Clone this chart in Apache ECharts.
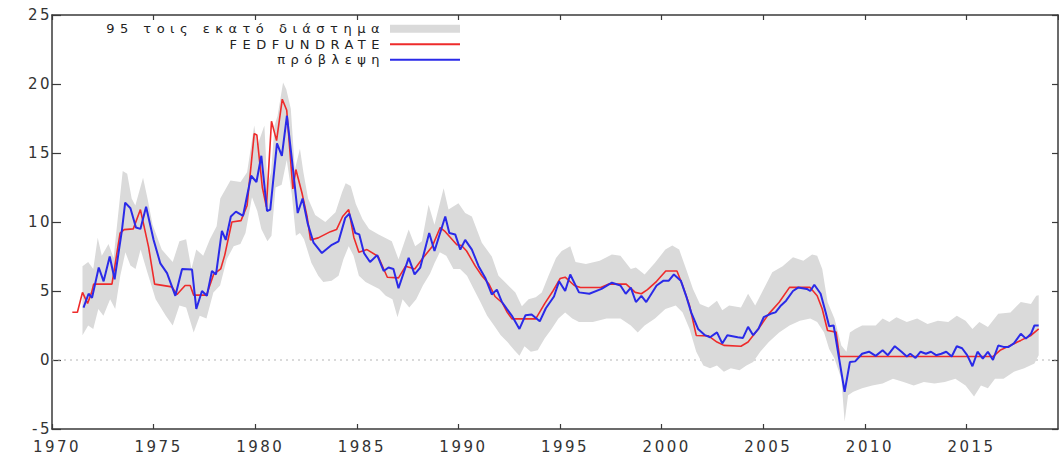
<!DOCTYPE html>
<html>
<head>
<meta charset="utf-8">
<title>FEDFUNDRATE - πρόβλεψη</title>
<script src="https://cdn.jsdelivr.net/npm/echarts@6/dist/echarts.min.js"></script>
<style>
    html, body { margin: 0; padding: 0; background: #fff; }
    #chart { width: 1059px; height: 454px; }
    /* wide gnuplot-style lettering */
    #chart text[style*="15px"] { letter-spacing: 2.5px; }
    #chart text[style*="13px"] { letter-spacing: 5.5px; }
</style>
</head>
<body>
<div id="chart"></div>
<script>
// axis ticks
const xTicks = [1970, 1975, 1980, 1985, 1990, 1995, 2000, 2005, 2010, 2015];
const yTicks = [-5, 0, 5, 10, 15, 20, 25];

const bandName = '95 τοις εκατό διάστημα';
const fedName = 'FEDFUNDRATE';
const fcName = 'πρόβλεψη';

// [year, %]
const fedfund = [
    [1971.0, 3.46], [1971.25, 3.46], [1971.5, 4.9], [1971.75, 4.1], [1971.95, 4.9], [1972.05, 5.5],
    [1972.95, 5.5], [1973.35, 9.2], [1973.55, 9.45], [1974.0, 9.5], [1974.35, 10.9], [1974.75, 8.2],
    [1975.05, 5.5], [1975.9, 5.3], [1976.15, 4.75], [1976.55, 5.4], [1976.8, 5.4], [1976.97, 4.7],
    [1977.6, 4.7], [1977.95, 6.2], [1978.3, 6.6], [1978.5, 7.6], [1978.85, 10.0], [1979.3, 10.1],
    [1979.6, 11.2], [1979.95, 16.4], [1980.08, 16.3], [1980.35, 12.5], [1980.55, 11.1], [1980.8, 17.3],
    [1981.05, 15.9], [1981.33, 18.9], [1981.55, 18.1], [1981.85, 12.4], [1982.0, 13.8], [1982.3, 12.1],
    [1982.55, 10.4], [1982.72, 8.7], [1983.1, 8.85], [1983.7, 9.3], [1984.0, 9.45], [1984.3, 10.4],
    [1984.6, 10.9], [1984.85, 8.9], [1985.1, 7.8], [1985.5, 8.0], [1986.05, 7.5], [1986.5, 6.0],
    [1987.05, 5.95], [1987.4, 6.8], [1987.85, 6.6], [1988.2, 7.3], [1988.7, 8.2], [1989.1, 9.6],
    [1989.35, 9.3], [1989.92, 8.35], [1990.15, 8.3], [1990.4, 7.9], [1990.83, 6.8], [1991.15, 6.1],
    [1991.5, 5.5], [1991.8, 4.6], [1992.15, 4.15], [1992.4, 3.45], [1992.63, 2.98], [1993.8, 2.98],
    [1994.25, 4.1], [1994.65, 5.0], [1995.0, 5.9], [1995.25, 6.0], [1995.7, 5.4], [1996.0, 5.25],
    [1997.0, 5.25], [1997.4, 5.5], [1998.25, 5.5], [1998.7, 4.9], [1999.0, 4.8], [1999.3, 5.1],
    [1999.75, 5.7], [2000.2, 6.45], [2000.75, 6.45], [2001.03, 5.4], [2001.37, 3.94], [2001.7, 1.78],
    [2002.3, 1.75], [2002.72, 1.3], [2003.06, 1.06], [2003.9, 1.0], [2004.25, 1.3], [2004.76, 2.26],
    [2005.27, 3.34], [2005.78, 4.18], [2006.29, 5.26], [2007.3, 5.26], [2007.65, 4.66], [2007.9, 3.7],
    [2008.16, 2.14], [2008.58, 2.02], [2008.75, 0.25], [2016.3, 0.25], [2016.65, 0.7], [2017.16, 1.06],
    [2017.67, 1.42], [2018.17, 1.78], [2018.55, 2.25]
];

const forecast = [
    [1971.55, 3.8], [1971.8, 4.8], [1971.97, 4.5], [1972.3, 6.7], [1972.54, 5.7], [1972.84, 7.5],
    [1973.08, 5.85], [1973.44, 9.4], [1973.6, 11.4], [1973.86, 11.0], [1974.13, 9.6], [1974.35, 9.5],
    [1974.63, 11.1], [1975.0, 8.7], [1975.33, 7.0], [1975.66, 6.3], [1976.07, 4.65], [1976.4, 6.6],
    [1976.89, 6.55], [1977.1, 3.7], [1977.38, 5.0], [1977.62, 4.65], [1977.87, 6.45], [1978.07, 6.2],
    [1978.36, 9.35], [1978.55, 8.7], [1978.8, 10.4], [1979.05, 10.75], [1979.4, 10.45], [1979.8, 13.35],
    [1980.06, 12.9], [1980.3, 14.8], [1980.58, 10.8], [1980.74, 10.9], [1981.07, 15.7], [1981.31, 14.8],
    [1981.56, 17.7], [1981.86, 13.8], [1982.09, 10.65], [1982.33, 11.7], [1982.58, 9.9], [1982.87, 8.5],
    [1983.28, 7.75], [1983.77, 8.35], [1984.1, 8.6], [1984.43, 10.3], [1984.63, 10.6], [1984.92, 9.2],
    [1985.12, 9.1], [1985.35, 7.75], [1985.65, 7.1], [1986.0, 7.6], [1986.32, 6.45], [1986.56, 6.7],
    [1986.8, 6.6], [1987.05, 5.2], [1987.55, 7.4], [1987.84, 6.2], [1988.12, 6.7], [1988.56, 9.2],
    [1988.82, 7.9], [1989.35, 10.4], [1989.55, 9.2], [1989.84, 9.1], [1990.09, 8.0], [1990.33, 8.7],
    [1990.66, 8.0], [1990.99, 6.8], [1991.32, 5.95], [1991.64, 4.75], [1991.89, 5.1], [1992.14, 4.2],
    [1992.38, 3.7], [1992.63, 3.2], [1993.0, 2.25], [1993.3, 3.25], [1993.6, 3.3], [1994.0, 2.8],
    [1994.3, 3.75], [1994.7, 4.6], [1994.95, 5.7], [1995.25, 5.0], [1995.5, 6.2], [1995.93, 4.9],
    [1996.44, 4.8], [1997.04, 5.15], [1997.55, 5.6], [1997.97, 5.4], [1998.23, 4.8], [1998.48, 5.25],
    [1998.73, 4.2], [1999.0, 4.65], [1999.24, 4.2], [1999.75, 5.4], [2000.09, 5.75], [2000.35, 5.75],
    [2000.6, 6.2], [2000.94, 5.75], [2001.2, 4.65], [2001.45, 3.45], [2001.79, 2.25], [2002.13, 1.8],
    [2002.38, 1.65], [2002.72, 2.0], [2002.98, 1.2], [2003.23, 1.8], [2003.74, 1.65], [2004.0, 1.6],
    [2004.25, 2.4], [2004.5, 1.8], [2004.76, 2.25], [2005.02, 3.1], [2005.36, 3.35], [2005.6, 3.45],
    [2005.87, 3.95], [2006.12, 4.3], [2006.46, 5.0], [2006.71, 5.25], [2007.14, 5.15], [2007.31, 5.0],
    [2007.51, 5.45], [2007.82, 4.8], [2008.07, 3.45], [2008.24, 2.45], [2008.46, 2.5], [2009.0, -2.3],
    [2009.26, -0.15], [2009.52, -0.1], [2009.86, 0.45], [2010.2, 0.6], [2010.53, 0.3], [2010.87, 0.7],
    [2011.13, 0.35], [2011.47, 1.0], [2011.8, 0.6], [2012.06, 0.25], [2012.23, 0.45], [2012.49, 0.15],
    [2012.74, 0.6], [2013.0, 0.45], [2013.25, 0.6], [2013.5, 0.35], [2013.76, 0.45], [2014.0, 0.6],
    [2014.27, 0.25], [2014.52, 1.0], [2014.78, 0.85], [2015.03, 0.35], [2015.29, -0.45], [2015.54, 0.6],
    [2015.8, 0.1], [2016.05, 0.6], [2016.3, 0.0], [2016.56, 1.05], [2016.82, 0.95], [2017.07, 0.95],
    [2017.33, 1.2], [2017.67, 1.9], [2017.92, 1.55], [2018.17, 1.9], [2018.34, 2.5], [2018.55, 2.5]
];

// 95% interval edges
const bandUpper = [
    [1971.5, 6.8], [1971.78, 7.1], [1972.03, 6.6], [1972.25, 8.85], [1972.45, 7.55], [1972.78, 8.4],
    [1973.03, 7.4], [1973.48, 13.7], [1973.7, 13.5], [1973.92, 11.7], [1974.1, 11.2], [1974.48, 13.2],
    [1974.7, 11.7], [1974.95, 9.8], [1975.4, 8.0], [1975.94, 7.1], [1976.27, 8.6], [1976.6, 8.75],
    [1976.86, 6.6], [1977.1, 8.0], [1977.44, 7.55], [1977.77, 8.75], [1978.1, 9.7], [1978.28, 11.7],
    [1978.78, 13.0], [1979.28, 12.9], [1979.6, 13.6], [1979.95, 17.0], [1980.1, 15.5], [1980.45, 17.0],
    [1980.6, 12.6], [1980.78, 13.6], [1980.95, 17.0], [1981.1, 17.7], [1981.37, 20.1], [1981.53, 19.6],
    [1981.75, 18.2], [1981.95, 13.8], [1982.2, 15.3], [1982.37, 13.6], [1982.6, 11.7], [1982.95, 10.5],
    [1983.45, 10.0], [1983.95, 10.7], [1984.28, 12.2], [1984.45, 12.8], [1984.7, 12.6], [1984.95, 11.3],
    [1985.28, 10.2], [1985.6, 9.5], [1986.07, 9.1], [1986.72, 8.6], [1987.05, 7.3], [1987.55, 9.45],
    [1987.87, 8.25], [1988.2, 8.6], [1988.53, 11.25], [1988.82, 9.8], [1989.27, 12.45], [1989.51, 10.9],
    [1990.0, 11.35], [1990.33, 10.65], [1990.66, 10.4], [1991.15, 8.5], [1991.64, 7.5], [1991.97, 6.1],
    [1992.38, 5.5], [1992.8, 4.9], [1993.12, 3.9], [1993.45, 4.4], [1993.8, 4.55], [1994.1, 4.9],
    [1994.43, 6.1], [1994.8, 7.4], [1995.08, 7.9], [1995.5, 8.25], [1995.76, 7.1], [1996.27, 6.95],
    [1996.95, 7.2], [1997.55, 7.65], [1997.97, 7.55], [1998.48, 6.6], [1998.73, 6.7], [1999.16, 6.2],
    [1999.67, 7.05], [2000.18, 8.0], [2000.52, 8.3], [2000.86, 8.0], [2001.2, 6.6], [2001.54, 5.15],
    [2001.88, 4.05], [2002.3, 3.8], [2002.72, 4.3], [2002.98, 3.6], [2003.32, 3.95], [2003.9, 3.8],
    [2004.25, 4.8], [2004.6, 3.95], [2004.93, 4.9], [2005.44, 6.35], [2005.95, 6.8], [2006.46, 7.45],
    [2006.97, 7.2], [2007.4, 7.65], [2007.65, 7.55], [2007.9, 6.6], [2008.16, 4.2], [2008.5, 3.0],
    [2008.84, 1.05], [2009.09, 0.6], [2009.26, 2.0], [2009.52, 2.25], [2009.86, 2.5], [2010.53, 2.5],
    [2010.87, 3.0], [2011.2, 2.75], [2011.55, 3.1], [2012.06, 2.75], [2012.57, 3.0], [2013.08, 2.6],
    [2013.59, 2.85], [2014.1, 2.75], [2014.52, 3.2], [2014.95, 2.85], [2015.29, 2.25], [2015.63, 2.75],
    [2016.05, 2.4], [2016.56, 3.35], [2017.16, 3.45], [2017.67, 4.2], [2018.17, 4.05], [2018.43, 4.65],
    [2018.55, 4.7]
];
const bandLower = [
    [1971.5, 1.8], [1971.78, 2.5], [1972.03, 2.25], [1972.28, 3.7], [1972.53, 3.2], [1972.86, 4.4],
    [1973.11, 3.7], [1973.36, 6.1], [1973.61, 7.8], [1973.86, 6.85], [1974.11, 6.6], [1974.36, 8.0],
    [1974.69, 6.35], [1975.1, 4.4], [1975.6, 3.2], [1975.94, 2.5], [1976.27, 3.95], [1976.6, 3.8],
    [1976.97, 2.0], [1977.27, 3.2], [1977.6, 3.0], [1977.94, 4.9], [1978.27, 5.4], [1978.6, 7.3],
    [1978.94, 8.25], [1979.27, 8.4], [1979.52, 9.2], [1979.84, 11.8], [1980.1, 10.8], [1980.3, 9.5],
    [1980.6, 8.6], [1980.8, 9.0], [1981.0, 12.5], [1981.3, 12.7], [1981.55, 14.5], [1981.8, 12.0],
    [1982.0, 9.0], [1982.2, 9.2], [1982.4, 8.75], [1982.76, 7.05], [1983.1, 6.1], [1983.35, 5.65],
    [1983.76, 5.75], [1984.1, 6.1], [1984.34, 7.3], [1984.6, 8.25], [1984.84, 7.55], [1985.1, 6.1],
    [1985.43, 5.65], [1985.76, 5.4], [1986.1, 5.15], [1986.42, 4.65], [1986.75, 4.4], [1987.0, 3.1],
    [1987.25, 4.4], [1987.58, 3.8], [1987.92, 4.4], [1988.25, 5.4], [1988.6, 6.25], [1988.83, 7.05],
    [1989.08, 7.8], [1989.4, 7.55], [1989.75, 6.6], [1990.08, 6.6], [1990.42, 6.1], [1990.75, 5.15],
    [1991.08, 4.2], [1991.41, 3.2], [1991.75, 2.5], [1992.08, 1.8], [1992.41, 1.3], [1992.75, 0.7],
    [1993.0, 0.3], [1993.25, 1.0], [1993.56, 0.6], [1993.9, 0.7], [1994.24, 1.55], [1994.58, 2.25],
    [1994.92, 3.0], [1995.25, 3.45], [1995.6, 3.0], [1995.93, 2.75], [1996.61, 2.75], [1997.29, 3.0],
    [1997.97, 3.0], [1998.48, 2.5], [1998.82, 2.0], [1999.16, 2.5], [1999.67, 3.0], [2000.18, 3.7],
    [2000.69, 3.95], [2001.03, 3.45], [2001.37, 2.25], [2001.7, 0.6], [2002.05, -0.4], [2002.38, -0.6],
    [2002.72, -0.4], [2003.06, -0.85], [2003.4, -0.6], [2003.83, -0.75], [2004.17, -0.4], [2004.5, -0.15],
    [2004.85, 0.6], [2005.27, 1.3], [2005.78, 2.0], [2006.29, 2.5], [2006.8, 2.85], [2007.31, 3.0],
    [2007.65, 2.75], [2007.99, 2.0], [2008.24, 0.8], [2008.5, 0.1], [2008.84, -1.35], [2009.0, -4.45],
    [2009.17, -2.55], [2009.43, -2.3], [2009.86, -2.05], [2010.36, -1.85], [2010.87, -1.7], [2011.38, -1.35],
    [2011.9, -1.6], [2012.4, -1.85], [2012.9, -1.6], [2013.42, -1.7], [2013.93, -1.6], [2014.45, -1.35],
    [2014.95, -1.85], [2015.37, -2.65], [2015.71, -1.85], [2016.05, -2.05], [2016.4, -1.35], [2016.82, -1.35],
    [2017.33, -0.85], [2017.84, -0.6], [2018.34, -0.25], [2018.55, 0.35]
];

// dotted zero reference
const zeroRef = [[1970, 0], [2019.5, 0]];

const xMin = xTicks[0];
const xMax = 2019.5;
const yMin = yTicks[0];
const yMax = yTicks[yTicks.length - 1];

const fontFamily = '"DejaVu Sans", Verdana, sans-serif';
const frameColor = '#3a3a3a';
const lineIcon = 'path://M0,0L100,0L100,2.6L0,2.6Z';

let myChart = echarts.init(document.getElementById('chart'), null, { renderer: 'svg' });

const frameAxis = (extra) => Object.assign({
    type: 'value',
    axisLine: { show: true, onZero: false, lineStyle: { color: frameColor, width: 1.5 } },
    axisTick: { show: true, inside: true, length: 5, lineStyle: { color: frameColor, width: 1.2 } },
    splitLine: { show: false },
}, extra);

let option = {
    animation: false,
    backgroundColor: '#ffffff',
    grid: { left: 52, right: 1, top: 15, bottom: 23, containLabel: false },
    legend: {
        orient: 'vertical',
        align: 'right',
        right: 599,
        top: 21,
        padding: 0,
        itemGap: 0,
        itemWidth: 70,
        itemHeight: 8,
        selectedMode: false,
        textStyle: { fontSize: 13, color: '#222', fontFamily: fontFamily, lineHeight: 15.5 },
        data: [
            { name: bandName, icon: 'rect' },
            { name: fedName, icon: lineIcon },
            { name: fcName, icon: lineIcon },
        ],
    },
    xAxis: [
        frameAxis({
            min: xMin, max: xMax, interval: 5, position: 'bottom',
            axisLabel: {
                fontSize: 15, color: '#333', fontFamily: fontFamily, margin: 10,
                padding: [0, 0, 0, 10], showMaxLabel: false,
                formatter: (v) => String(v),
            },
        }),
        frameAxis({
            min: xMin, max: xMax, interval: 5, position: 'top',
            axisLabel: { show: false },
        }),
    ],
    yAxis: [
        frameAxis({
            min: yMin, max: yMax, interval: 5, position: 'left',
            axisTick: { show: true, inside: true, length: 9, lineStyle: { color: frameColor, width: 1.2 } },
            axisLabel: { fontSize: 15, color: '#333', fontFamily: fontFamily, margin: 0, formatter: (v) => String(v) },
        }),
        frameAxis({
            min: yMin, max: yMax, interval: 5, position: 'right',
            axisTick: { show: true, inside: true, length: 6, lineStyle: { color: frameColor, width: 1.2 } },
            axisLabel: { show: false },
        }),
    ],
    series: [
        {
            name: 'zero',
            type: 'line',
            data: zeroRef,
            symbol: 'none',
            silent: true,
            z: 1,
            lineStyle: { color: '#b5b5b5', width: 1, type: [2, 4] },
        },
        {
            name: bandName,
            type: 'custom',
            z: 2,
            silent: true,
            itemStyle: { color: '#dadada' },
            data: [[bandUpper[0][0], bandUpper[0][1]]],
            renderItem: (params, api) => {
                if (params.dataIndex !== 0) return;
                const pts = bandUpper.map((p) => api.coord(p))
                    .concat(bandLower.slice().reverse().map((p) => api.coord(p)));
                return {
                    type: 'polygon',
                    shape: { points: pts },
                    style: { fill: '#dadada' },
                };
            },
        },
        {
            name: fedName,
            type: 'line',
            data: fedfund,
            symbol: 'none',
            z: 3,
            lineStyle: { color: '#ee2b2b', width: 1.6 },
            itemStyle: { color: '#ee2b2b' },
        },
        {
            name: fcName,
            type: 'line',
            data: forecast,
            symbol: 'none',
            z: 4,
            lineStyle: { color: '#2a2ae8', width: 2 },
            itemStyle: { color: '#2a2ae8' },
        },
    ],
};

myChart.setOption(option);
window.addEventListener('resize', () => {
    myChart.resize();
});
</script>
</body>
</html>
